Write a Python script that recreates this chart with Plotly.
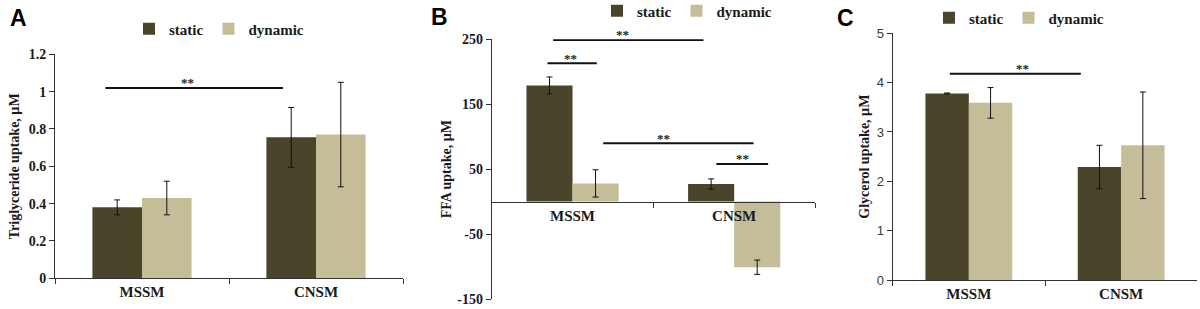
import plotly.graph_objects as go

# ---------------- data ----------------
categories = ["MSSM", "CNSM"]
series_names = ["static", "dynamic"]

tg_static = [0.38, 0.755]
tg_static_err = [0.04, 0.16]
tg_dynamic = [0.43, 0.77]
tg_dynamic_err = [0.09, 0.28]

ffa_static = [179, 27]
ffa_static_err = [13, 8]
ffa_dynamic = [28, -101]
ffa_dynamic_err = [21, 11]

gly_static = [3.78, 2.29]
gly_static_err = [0.01, 0.44]
gly_dynamic = [3.59, 2.73]
gly_dynamic_err = [0.31, 1.08]

# significance brackets: (x start, x end, height, star x) in category units / data units
sig_A = [(-0.21, 0.81, 1.02, 0.26)]
sig_B = [(-0.12, 0.81, 249, 0.31), (-0.155, 0.15, 213, -0.01),
         (0.19, 1.12, 90, 0.56), (0.89, 1.21, 58, 1.05)]
sig_C = [(-0.125, 0.735, 4.18, 0.35)]

y_titles = ["Triglyceride uptake, \u00b5M", "FFA uptake, \u00b5M", "Glycerol uptake, \u00b5M"]
panel_letters = ["A", "B", "C"]
yranges = [[0, 1.2], [-150, 250], [0, 5]]
ytickvals = [[0, 0.2, 0.4, 0.6, 0.8, 1.0, 1.2], [-150, -50, 50, 150, 250], [0, 1, 2, 3, 4, 5]]
yticktext = [["0", "0.2", "0.4", "0.6", "0.8", "1", "1.2"],
             ["-150", "-50", "50", "150", "250"],
             ["0", "1", "2", "3", "4", "5"]]

# ---------------- style ----------------
W, H = 1200, 309
C_STATIC = "#4A452A"
C_DYNAMIC = "#C4BD97"
SERIF = "Liberation Serif, Times New Roman, serif"
SANS = "Liberation Sans, Arial, sans-serif"

def px_x(p):
    return p / W

def px_y(p):
    return 1 - p / H

# pixel geometry of each panel: x axis span, y pixel of range bottom and top
x_dom_px = [(55, 403), (491.7, 815), (892.7, 1197.3)]
y_dom_px = [(278.3, 54.3), (299, 39.3), (280, 33.3)]
legend_center_px = [(219, 29), (687, 11), (1019, 18)]
letter_px = [(18, 18), (440, 17), (845, 18)]
standoffs = [5, 2, 3]

fig = go.Figure()

panels = [
    (tg_static, tg_static_err, tg_dynamic, tg_dynamic_err, sig_A),
    (ffa_static, ffa_static_err, ffa_dynamic, ffa_dynamic_err, sig_B),
    (gly_static, gly_static_err, gly_dynamic, gly_dynamic_err, sig_C),
]

for i, (s, se, d, de, sigs) in enumerate(panels):
    k = "" if i == 0 else str(i + 1)
    leg = "legend" + k
    for name, vals, errs, col in [("static", s, se, C_STATIC), ("dynamic", d, de, C_DYNAMIC)]:
        fig.add_trace(go.Bar(
            x=categories, y=vals, name=name, marker=dict(color=col, line=dict(width=0)),
            error_y=dict(type="data", array=errs, visible=True, color="#111111",
                         thickness=1, width=3),
            xaxis="x" + k, yaxis="y" + k, legend=leg, showlegend=True,
        ))
    for (x0, x1, h, sx) in sigs:
        fig.add_shape(type="line", xref="x" + k, yref="y" + k, x0=x0, x1=x1, y0=h, y1=h,
                      line=dict(color="#111111", width=2))
        fig.add_annotation(xref="x" + k, yref="y" + k, x=sx, y=h, text="**", showarrow=False,
                           yanchor="middle", yshift=5,
                           font=dict(family=SERIF, size=13, color="#222222", weight="bold"))

    xd = [px_x(x_dom_px[i][0]), px_x(x_dom_px[i][1])]
    yd = [px_y(y_dom_px[i][0]), px_y(y_dom_px[i][1])]
    tickfont = (dict(family=SERIF, size=14, color="#1a1a1a", weight="bold") if i < 2
                else dict(family=SANS, size=13, color="#3a3a3a"))
    yax = dict(domain=yd, range=yranges[i], anchor="x" + k, tickvals=ytickvals[i],
               ticktext=yticktext[i], showline=True, linecolor="#333333", linewidth=1,
               ticks="outside", ticklen=5, tickcolor="#333333", showgrid=False, zeroline=False,
               tickfont=tickfont, automargin=False,
               title=dict(text=y_titles[i], standoff=standoffs[i],
                          font=dict(family=SERIF, size=14, color="#1a1a1a", weight="bold")))
    xax = dict(domain=xd, type="category", range=[-0.5, 1.5], showline=True,
               linecolor="#333333", linewidth=1, ticks="outside", ticklen=5,
               tickcolor="#333333", tickson="boundaries", showgrid=False, zeroline=False,
               automargin=False,
               tickfont=dict(family=SERIF, size=15, color="#1a1a1a", weight="bold"))
    if i == 1:
        y0, y1 = yranges[i]
        pos = yd[0] + (0 - y0) / (y1 - y0) * (yd[1] - yd[0])
        xax.update(anchor="free", position=pos)
    else:
        xax.update(anchor="y" + k)
    fig.update_layout(**{"xaxis" + k: xax, "yaxis" + k: yax})

    lx, ly = legend_center_px[i]
    fig.update_layout(**{leg: dict(orientation="h", x=px_x(lx), y=px_y(ly), xanchor="center",
                                   yanchor="middle", xref="container", yref="container",
                                   bgcolor="rgba(0,0,0,0)", itemwidth=30,
                                   font=dict(family=SERIF, size=15, color="#1a1a1a", weight="bold"))})

    tx, ty = letter_px[i]
    fig.add_annotation(xref="paper", yref="paper", x=px_x(tx), y=px_y(ty), text=panel_letters[i],
                       showarrow=False, xanchor="center", yanchor="middle",
                       font=dict(family=SANS, size=23, color="#000000", weight="bold"))

fig.update_layout(width=W, height=H, margin=dict(l=0, r=0, t=0, b=0, autoexpand=False),
                  paper_bgcolor="white", plot_bgcolor="white",
                  font=dict(family=SERIF, color="#1a1a1a"),
                  barmode="group", bargap=0.43, bargroupgap=0)

fig.write_html("out.html", config={"displayModeBar": False},
               post_script="document.body.style.margin='0';document.body.style.overflow='hidden';")
